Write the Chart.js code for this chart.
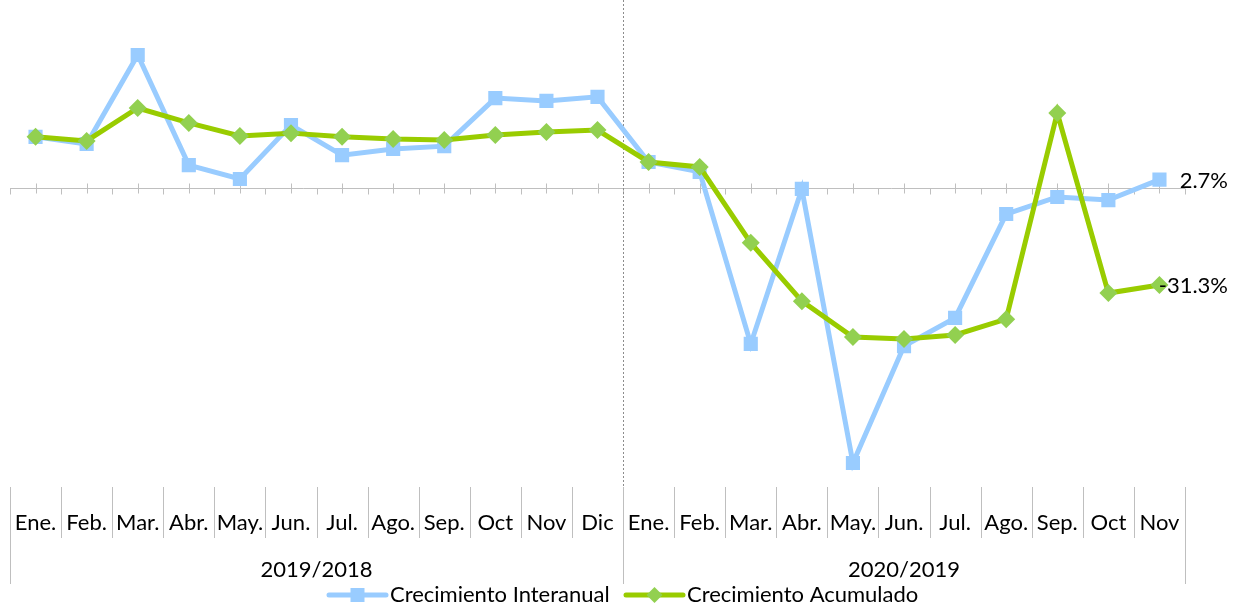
<!DOCTYPE html>
<html>
<head>
<meta charset="utf-8">
<script src="https://cdn.jsdelivr.net/npm/chart.js@4"></script>
<style>
  html, body { margin: 0; padding: 0; background: #fff; }
</style>
</head>
<body>
<canvas id="chart" width="1234" height="607"></canvas>
<script>
const months = ['Ene.', 'Feb.', 'Mar.', 'Abr.', 'May.', 'Jun.', 'Jul.', 'Ago.', 'Sep.', 'Oct', 'Nov', 'Dic',
                'Ene.', 'Feb.', 'Mar.', 'Abr.', 'May.', 'Jun.', 'Jul.', 'Ago.', 'Sep.', 'Oct', 'Nov']
const groups = [
  { label: '2019/2018', count: 12 },
  { label: '2020/2019', count: 11 }
]
const interanual = [16.5, 14.2, 42.9, 7.4, 2.9, 20.3, 10.6, 12.6, 13.5, 29.0, 28.1, 29.4,
                    8.4, 5.2, -50.3, -0.3, -88.7, -51.0, -41.9, -8.4, -2.9, -3.9, 2.7]
const acumulado = [16.5, 15.2, 25.8, 21.0, 16.8, 17.7, 16.5, 15.8, 15.5, 17.1, 18.1, 18.7,
                   8.4, 6.8, -17.7, -36.5, -48.1, -48.7, -47.4, -42.3, 24.2, -33.9, -31.3]
const seriesNames = ['Crecimiento Interanual', 'Crecimiento Acumulado']

const FONT = 'Lato, "Open Sans", sans-serif'
const BLUE = '#99CCFF'
const GREEN_LINE = '#99CC00'
const GREEN_MARK = '#92D050'

const cats = months.map((m, i) => i)

// zero axis, ticks and the divider between the two years
const backdrop = {
  id: 'backdrop',
  beforeDatasetsDraw(chart) {
    const { ctx, chartArea: a, scales: { x, y } } = chart
    const y0 = Math.round(y.getPixelForValue(0)) + 0.5
    const half = (x.getPixelForValue(1) - x.getPixelForValue(0)) / 2
    ctx.save()
    ctx.strokeStyle = '#BFBFBF'
    ctx.lineWidth = 1
    ctx.beginPath()
    ctx.moveTo(a.left, y0)
    ctx.lineTo(a.right, y0)
    for (let i = 0; i < months.length; i++) {
      const c = Math.round(x.getPixelForValue(i)) + 0.5
      ctx.moveTo(c, y0 - 5); ctx.lineTo(c, y0 + 5)
    }
    for (let i = 0; i <= months.length; i++) {
      const b = Math.round(x.getPixelForValue(i) - half) + 0.5
      ctx.moveTo(b, y0); ctx.lineTo(b, y0 + 6)
    }
    ctx.stroke()

    const split = Math.round(x.getPixelForValue(groups[0].count) - half) + 0.5
    ctx.strokeStyle = '#8C8C8C'
    ctx.setLineDash([2, 2])
    ctx.beginPath()
    ctx.moveTo(split, 0)
    ctx.lineTo(split, a.bottom + 4)
    ctx.stroke()
    ctx.restore()
  }
}

// category table, end labels and legend
const overlay = {
  id: 'overlay',
  afterDraw(chart) {
    const { ctx, scales: { x, y } } = chart
    const half = (x.getPixelForValue(1) - x.getPixelForValue(0)) / 2
    ctx.save()
    ctx.strokeStyle = '#BFBFBF'
    ctx.lineWidth = 1
    ctx.beginPath()
    let idx = 0
    const edges = [0]
    groups.forEach(g => { idx += g.count; edges.push(idx) })
    for (let i = 0; i <= months.length; i++) {
      const b = Math.round(x.getPixelForValue(i) - half) + 0.5
      ctx.moveTo(b, 487)
      ctx.lineTo(b, edges.includes(i) ? 584 : 538)
    }
    ctx.stroke()

    ctx.fillStyle = '#000'
    ctx.font = '22px ' + FONT
    ctx.textAlign = 'center'
    ctx.textBaseline = 'middle'
    months.forEach((m, i) => ctx.fillText(m, x.getPixelForValue(i), 523))
    groups.forEach((g, k) => {
      const l = x.getPixelForValue(edges[k]) - half
      const r = x.getPixelForValue(edges[k + 1]) - half
      ctx.fillText(g.label, (l + r) / 2, 570)
    })

    // values at the end of each series
    const last = months.length - 1
    ctx.textAlign = 'right'
    ctx.fillText(interanual[last].toFixed(1) + '%', 1228, y.getPixelForValue(interanual[last]) + 1)
    ctx.fillText(acumulado[last].toFixed(1) + '%', 1228, y.getPixelForValue(acumulado[last]) + 1)

    // legend
    const ly = 595
    const items = [
      { x: 329, line: BLUE, mark: BLUE, style: 'rect' },
      { x: 626, line: GREEN_LINE, mark: GREEN_MARK, style: 'rectRot' }
    ]
    items.forEach((it, k) => {
      ctx.strokeStyle = it.line
      ctx.lineWidth = 5
      ctx.lineCap = 'round'
      ctx.beginPath()
      ctx.moveTo(it.x, ly)
      ctx.lineTo(it.x + 57, ly)
      ctx.stroke()
      ctx.fillStyle = it.mark
      ctx.beginPath()
      if (it.style === 'rect') {
        ctx.rect(it.x + 28.5 - 7, ly - 7, 14, 14)
      } else {
        ctx.moveTo(it.x + 28.5, ly - 8); ctx.lineTo(it.x + 36.5, ly)
        ctx.lineTo(it.x + 28.5, ly + 8); ctx.lineTo(it.x + 20.5, ly)
        ctx.closePath()
      }
      ctx.fill()
      ctx.fillStyle = '#000'
      ctx.textAlign = 'left'
      ctx.fillText(seriesNames[k], it.x + 61, ly)
    })
    ctx.restore()
  }
}

new Chart(document.getElementById('chart'), {
  type: 'line',
  data: {
    labels: cats,
    datasets: [
      {
        label: seriesNames[0],
        data: interanual,
        borderColor: BLUE,
        backgroundColor: BLUE,
        borderWidth: 5,
        pointStyle: 'rect',
        pointRadius: 10,
        pointBorderWidth: 0,
        order: 2
      },
      {
        label: seriesNames[1],
        data: acumulado,
        borderColor: GREEN_LINE,
        backgroundColor: GREEN_MARK,
        borderWidth: 5,
        pointStyle: 'rectRot',
        pointRadius: 9,
        pointBorderWidth: 0,
        order: 1
      }
    ]
  },
  options: {
    responsive: false,
    animation: false,
    layout: { autoPadding: false, padding: { left: 10, right: 49, top: 2, bottom: 124.5 } },
    plugins: { legend: { display: false }, tooltip: { enabled: false } },
    scales: {
      x: { type: 'category', offset: true, display: false },
      y: { min: -95, max: 60, display: false }
    }
  },
  plugins: [backdrop, overlay]
})
</script>
</body>
</html>
